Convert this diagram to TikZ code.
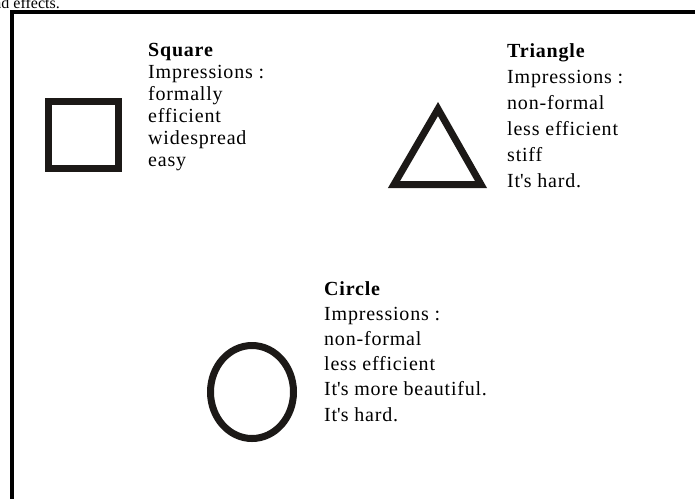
\documentclass[tikz,border=0pt]{standalone}
\usepackage{fontspec}
\setmainfont{Liberation Serif}[LetterSpace=4]
\newfontfamily\capfont{Liberation Serif}
\usetikzlibrary{positioning}
\definecolor{ink}{RGB}{28,25,23}
\newcommand{\apos}{\textquotesingle}

\begin{document}
\begin{tikzpicture}[x=1pt,y=-1pt,
  outline/.style={draw=ink, line width=7pt, miter limit=10},
  blurb/.style={align=left, inner sep=0pt, anchor=north west},
  frame/.style={line width=4pt, line cap=rect}]
  \useasboundingbox (0,0) rectangle (695,498);
  \begin{scope}
    \clip (0,0) rectangle (695,498);
    \node[anchor=base east, inner sep=0pt, font=\capfont\fontsize{16}{19}\selectfont] (caption) at (60,8) {nd effects.};
    \draw[frame] (11.5,505) -- (11.5,12) -- (705,12);
  \end{scope}
  % shapes
  \draw[outline] (48.5,101.5) rectangle (118.5,168.5);
  \draw[outline] (438,109) -- (481,184.5) -- (394,184.5) -- cycle;
  \draw[outline] (252,392) ellipse [x radius=41.5, y radius=46.5];
  % impressions
  \node[blurb, font=\fontsize{20}{22}\selectfont] (sqtext) at (148,43)
    {\textbf{Square}\\Impressions :\\formally\\efficient\\widespread\\easy};
  \node[blurb, font=\fontsize{20}{26}\selectfont] (tritext) at (507,43)
    {\textbf{Triangle}\\Impressions :\\non-formal\\less efficient\\stiff\\It\apos s hard.};
  \node[blurb, font=\fontsize{20}{25.2}\selectfont] (circtext) at (324,281)
    {\textbf{Circle}\\Impressions :\\non-formal\\less efficient\\It\apos s more beautiful.\\It\apos s hard.};
\end{tikzpicture}
\end{document}
